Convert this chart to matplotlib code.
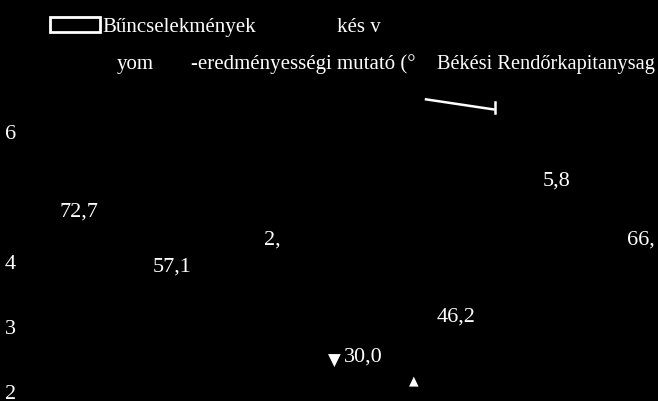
import matplotlib
matplotlib.use("Agg")
import matplotlib.pyplot as plt
from matplotlib.patches import Rectangle

categories = [0, 1, 2, 3, 4, 5, 6]
pct_values = [72.7, 57.1, 62.5, 30.0, 46.2, 75.8, 66.7]
pct_labels = ["72,7", "57,1", "2,", "30,0", "46,2", "5,8", "66,"]
left_ticks = [2, 3, 4, 6]
left_ticklabels = ["2", "3", "4", "6"]
visible_bar_category = 4
visible_bar_value = 6.43
legend_bar_label = "Bűncselekmények"
legend_bar_fragment = "kés v"
legend_line_fragments = ["yom", "-eredményességi mutató (°", "Békési Rendőrkapitanysag"]

SERIF = ["Liberation Serif", "DejaVu Serif"]
W, H = 658, 402

fig = plt.figure(figsize=(W / 100, H / 100), dpi=100, facecolor="black")
ax = fig.add_axes([0, 0, 1, 1])
ax.set_facecolor("black")
ax.set_xlim(-0.815, 6.148)
ax.set_ylim(1.85, 8.03)
for s in ax.spines.values():
    s.set_visible(False)
ax.set_xticks([])
ax.set_yticks(left_ticks)
ax.set_yticklabels(left_ticklabels, color="white", fontsize=16, family=SERIF)
ax.tick_params(axis="y", length=0, pad=-11.5)

# visible fragment of one bar's top edge
bx0 = visible_bar_category + 0.05 - 0.37
bx1 = visible_bar_category + 0.05 + 0.37
ax.plot([bx0, bx1], [visible_bar_value + 0.06, visible_bar_value - 0.1],
        color="white", lw=1.8, solid_capstyle="butt")
ax.plot([bx1, bx1], [visible_bar_value + 0.02, visible_bar_value - 0.15],
        color="white", lw=1.8)

# percentage line (drawn black like in the scan), with value labels
ax2 = ax.twinx()
ax2.set_ylim(18.2, 135.5)
ax2.set_facecolor("none")
ax2.axis("off")
ax2.plot(categories, pct_values, color="black", lw=1)

label_offsets_px = [(2, 3.3), (0.5, 1.8), (6, 10.3), (3, 4.7), (1, -11), (7.5, 24), (-3, -4)]
for x, v, lab, (dx, dy) in zip(categories, pct_values, pct_labels, label_offsets_px):
    ax2.annotate(lab, (x, v), xytext=(dx * 0.72, dy * 0.72), textcoords="offset points",
                 ha="center", va="center", color="white", fontsize=16, family=SERIF)

# markers visible in the scan
ax2.annotate("▼", (categories[3], pct_values[3]), xytext=(-26 * 0.72, 1.0 * 0.72),
             textcoords="offset points", ha="center", va="center", color="white",
             fontsize=12, family="DejaVu Sans")
ax2.annotate("▲", (categories[4], pct_values[4]), xytext=(-41 * 0.72, -75 * 0.72),
             textcoords="offset points", ha="center", va="center", color="white",
             fontsize=9, family="DejaVu Sans")

# ---- legend (top) ----
def fx(px):
    return px / W

def fy(py):
    return 1 - py / H

fig.patches.append(Rectangle((fx(50), fy(33)), fx(100) - fx(50), fy(18) - fy(33),
                             transform=fig.transFigure, facecolor="black",
                             edgecolor="white", lw=2))
fig.text(fx(102), fy(32), legend_bar_label, color="white", fontsize=15, family=SERIF,
         ha="left", va="baseline")
fig.text(fx(337), fy(32), legend_bar_fragment, color="white", fontsize=15, family=SERIF,
         ha="left", va="baseline")
for xpx, t, fs in zip([117, 191, 437], legend_line_fragments, [15, 15, 14.7]):
    fig.text(fx(xpx), fy(69), t, color="white", fontsize=fs, family=SERIF,
             ha="left", va="baseline")

fig.savefig("out.png", dpi=100, facecolor="black")
